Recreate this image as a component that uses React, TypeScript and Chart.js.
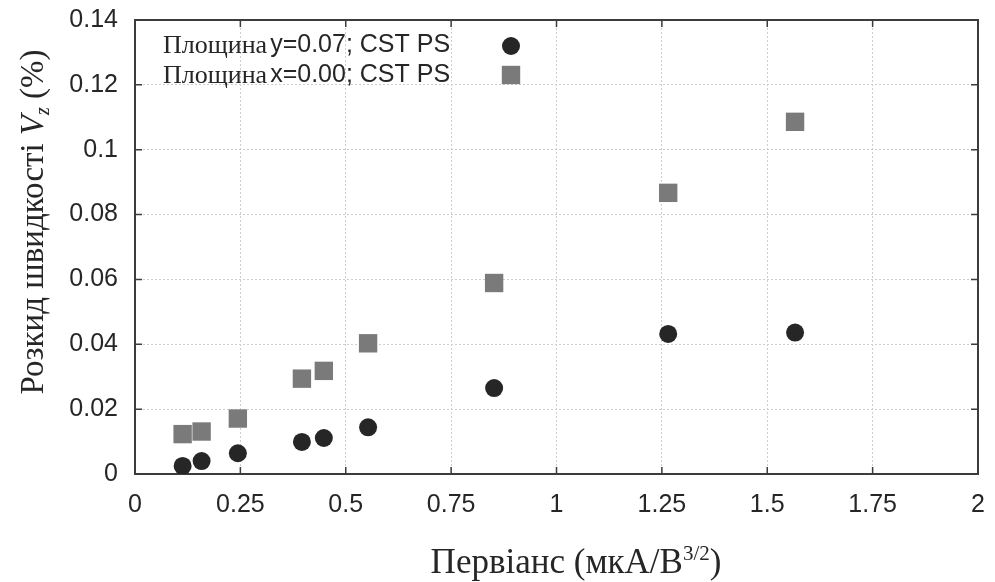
import React, { useEffect, useRef } from 'react';
import { Chart, registerables } from 'chart.js';

Chart.register(...registerables);

// Data
const perveance = [0.113, 0.158, 0.244, 0.396, 0.448, 0.553, 0.852, 1.265, 1.566];
const spreadPlaneY = [0.0025, 0.004, 0.0064, 0.0099, 0.0111, 0.0144, 0.0265, 0.0432, 0.0436];
const spreadPlaneX = [0.0123, 0.0131, 0.0171, 0.0294, 0.0318, 0.0403, 0.0589, 0.0867, 0.1086];
const legendPrefix = 'Площина';
const seriesLabels = ['y=0.07; CST PS', 'x=0.00; CST PS'];
const xTicks = [0, 0.25, 0.5, 0.75, 1, 1.25, 1.5, 1.75, 2];
const yTicks = [0, 0.02, 0.04, 0.06, 0.08, 0.1, 0.12, 0.14];
const xTitleMain = 'Первіанс (мкА/В';
const xTitleSup = '3/2';
const xTitleEnd = ')';
const yTitleMain = 'Розкид швидкості ';
const yTitleVar = 'V';
const yTitleSub = 'z';
const yTitleEnd = ' (%)';

const SERIF = '"Liberation Serif", "Times New Roman", serif';
const SANS = '"Liberation Sans", Arial, sans-serif';
const TEXT = '#262626';

const fmt = (v: number) => String(+Number(v).toFixed(2));

const frameTicksPlugin = {
  id: 'frameTicks',
  beforeDatasetsDraw(chart: any) {
    const { ctx, chartArea: a, scales } = chart;
    const xs = scales.x;
    const ys = scales.y;
    const L = 7;
    ctx.save();
    ctx.strokeStyle = '#3c3c3c';
    ctx.lineWidth = 1.5;
    ctx.beginPath();
    xs.ticks.forEach((t: any) => {
      const px = xs.getPixelForValue(t.value);
      ctx.moveTo(px, a.bottom);
      ctx.lineTo(px, a.bottom - L);
      ctx.moveTo(px, a.top);
      ctx.lineTo(px, a.top + L);
    });
    ys.ticks.forEach((t: any) => {
      const py = ys.getPixelForValue(t.value);
      ctx.moveTo(a.left, py);
      ctx.lineTo(a.left + L, py);
      ctx.moveTo(a.right, py);
      ctx.lineTo(a.right - L, py);
    });
    ctx.stroke();
    ctx.lineWidth = 2;
    ctx.strokeRect(a.left, a.top, a.right - a.left, a.bottom - a.top);
    ctx.restore();
  },
};

const titlesLegendPlugin = {
  id: 'titlesLegend',
  afterDraw(chart: any) {
    const { ctx } = chart;
    ctx.save();
    ctx.fillStyle = TEXT;
    ctx.textBaseline = 'alphabetic';
    ctx.textAlign = 'left';

    // X axis title
    const fMain = `35px ${SERIF}`;
    const fSup = `21px ${SERIF}`;
    ctx.font = fMain;
    const w1 = ctx.measureText(xTitleMain).width;
    const w3 = ctx.measureText(xTitleEnd).width;
    ctx.font = fSup;
    const w2 = ctx.measureText(xTitleSup).width;
    const total = w1 + w2 + w3;
    let x = 576 - total / 2;
    const base = 573;
    ctx.font = fMain;
    ctx.fillText(xTitleMain, x, base);
    x += w1;
    ctx.font = fSup;
    ctx.fillText(xTitleSup, x, base - 13);
    x += w2;
    ctx.font = fMain;
    ctx.fillText(xTitleEnd, x, base);

    // Y axis title (rotated)
    ctx.save();
    ctx.translate(43, 222);
    ctx.rotate(-Math.PI / 2);
    const yMain = `33px ${SERIF}`;
    const yItal = `italic 33px ${SERIF}`;
    const ySub = `italic 20px ${SERIF}`;
    ctx.font = yMain;
    const a1 = ctx.measureText(yTitleMain).width;
    const a4 = ctx.measureText(yTitleEnd).width;
    ctx.font = yItal;
    const a2 = ctx.measureText(yTitleVar).width;
    ctx.font = ySub;
    const a3 = ctx.measureText(yTitleSub).width;
    let yx = -(a1 + a2 + a3 + a4) / 2;
    ctx.font = yMain;
    ctx.fillText(yTitleMain, yx, 0);
    yx += a1;
    ctx.font = yItal;
    ctx.fillText(yTitleVar, yx, 0);
    yx += a2;
    ctx.font = ySub;
    ctx.fillText(yTitleSub, yx, 6);
    yx += a3;
    ctx.font = yMain;
    ctx.fillText(yTitleEnd, yx, 0);
    ctx.restore();

    // Legend
    ctx.textBaseline = 'middle';
    chart.data.datasets.forEach((ds: any, i: number) => {
      const rowY = 45 + 30 * i;
      let lx = 163;
      ctx.fillStyle = TEXT;
      ctx.font = `26px ${SERIF}`;
      ctx.fillText(legendPrefix, lx, rowY + 1);
      lx += ctx.measureText(legendPrefix).width + 3;
      ctx.font = `25px ${SANS}`;
      ctx.fillText(seriesLabels[i], lx, rowY);
      const mx = 511;
      ctx.fillStyle = ds.backgroundColor;
      ctx.beginPath();
      if (ds.pointStyle === 'rect') {
        const s = ds.pointRadius * Math.SQRT1_2;
        ctx.rect(mx - s, rowY - s, 2 * s, 2 * s);
      } else {
        ctx.arc(mx, rowY + 1, ds.pointRadius, 0, Math.PI * 2);
      }
      ctx.fill();
    });
    ctx.restore();
  },
};

export default function App() {
  const ref = useRef<HTMLCanvasElement | null>(null);

  useEffect(() => {
    if (!ref.current) return;
    const chart = new Chart(ref.current, {
      type: 'scatter',
      data: {
        datasets: [
          {
            label: legendPrefix + ' ' + seriesLabels[0],
            data: perveance.map((p, i) => ({ x: p, y: spreadPlaneY[i] })),
            pointStyle: 'circle',
            pointRadius: 9,
            pointHoverRadius: 9,
            backgroundColor: '#262626',
            borderColor: '#262626',
            borderWidth: 0,
          },
          {
            label: legendPrefix + ' ' + seriesLabels[1],
            data: perveance.map((p, i) => ({ x: p, y: spreadPlaneX[i] })),
            pointStyle: 'rect',
            pointRadius: 13,
            pointHoverRadius: 13,
            backgroundColor: '#7a7a7a',
            borderColor: '#7a7a7a',
            borderWidth: 0,
          },
        ],
      },
      options: {
        responsive: false,
        animation: false,
        devicePixelRatio: 1,
        layout: { padding: { left: 0, top: 20, right: 17, bottom: 0 } },
        plugins: {
          legend: { display: false },
          tooltip: { enabled: false },
          title: { display: false },
        },
        scales: {
          x: {
            type: 'linear',
            min: 0,
            max: 2,
            afterBuildTicks: (s: any) => {
              s.ticks = xTicks.map((v) => ({ value: v }));
            },
            afterFit: (s: any) => {
              s.height = 108;
              s.paddingLeft = 0;
              s.paddingRight = 0;
              s.paddingTop = 0;
              s.paddingBottom = 0;
            },
            ticks: {
              autoSkip: false,
              maxRotation: 0,
              padding: 16,
              color: TEXT,
              font: { family: SANS, size: 25 },
              callback: (v: any) => fmt(v),
            },
            grid: { color: '#cdcdcd', lineWidth: 1, drawTicks: false },
            border: { display: false, dash: [2, 2] },
          },
          y: {
            type: 'linear',
            min: 0,
            max: 0.14,
            afterBuildTicks: (s: any) => {
              s.ticks = yTicks.map((v) => ({ value: v }));
            },
            afterFit: (s: any) => {
              s.width = 135;
              s.paddingLeft = 0;
              s.paddingRight = 0;
              s.paddingTop = 0;
              s.paddingBottom = 0;
            },
            ticks: {
              autoSkip: false,
              padding: 17,
              color: TEXT,
              font: { family: SANS, size: 25 },
              callback: (v: any) => fmt(v),
            },
            grid: { color: '#cdcdcd', lineWidth: 1, drawTicks: false },
            border: { display: false, dash: [2, 2] },
          },
        },
      },
      plugins: [frameTicksPlugin, titlesLegendPlugin],
    });
    return () => chart.destroy();
  }, []);

  return (
    <div style={{ position: 'absolute', left: 0, top: 0, width: 995, height: 582, background: '#fff' }}>
      <canvas ref={ref} width={995} height={582} />
    </div>
  );
}
